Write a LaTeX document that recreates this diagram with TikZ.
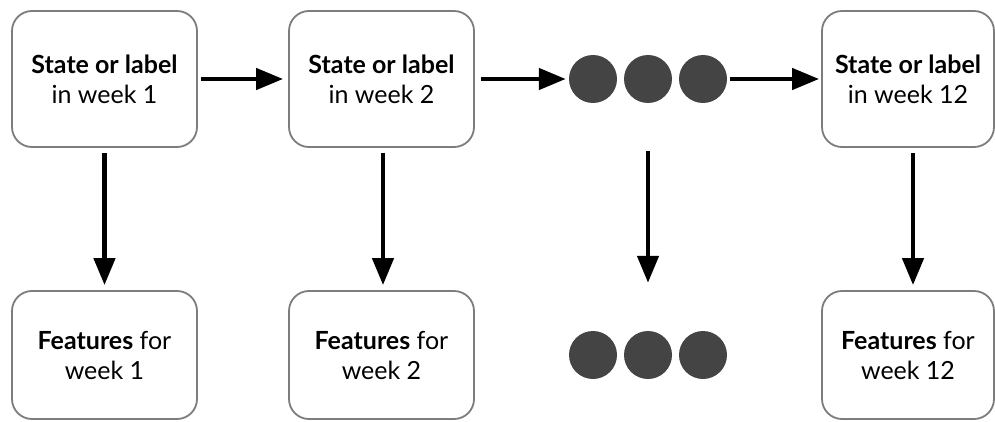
\documentclass[tikz,border=0pt]{standalone}
\usepackage{fontspec}
\setmainfont{Lato}
\usetikzlibrary{arrows.meta}
\definecolor{boxline}{RGB}{125,125,125}
\definecolor{dotfill}{RGB}{68,68,68}

\begin{document}
\begin{tikzpicture}[x=1pt, y=1pt, node distance=277pt,
  week/.style={draw=boxline, line width=1.8pt, rounded corners=20pt, align=center,
    minimum width=185pt, font=\fontsize{25}{30}\selectfont},
  state/.style={week, minimum height=136pt},
  feat/.style={week, minimum height=128pt},
  dot/.style={circle, fill=dotfill, minimum size=48pt, inner sep=0pt},
  link/.style={line width=4.5pt, -{Triangle[length=27pt, width=21pt]}}]
\useasboundingbox (0,0) rectangle (995,421);
\node  (t1)[state] at (104.5,342) {\textbf{State or label}\\in week 1};
\node  (t2)[state] [right of = t1] {\textbf{State or label}\\in week 2};
\node  (d1)[dot] [right of = t2, node distance=211.5pt] {};
\node  (d2)[dot] [right of = d1, node distance=55pt] {};
\node  (d3)[dot] [right of = d2, node distance=55pt] {};
\node  (t4)[state, minimum width=172pt] [right of = t2, node distance=526.5pt] {\textbf{State or label}\\in week 12};
\node  (f1)[feat] [below of = t1, node distance=276pt] {\textbf{Features} for\\week 1};
\node  (f2)[feat] [below of = t2, node distance=276pt] {\textbf{Features} for\\week 2};
\node  (e1)[dot] [below of = d1, node distance=276pt] {};
\node  (e2)[dot] [below of = d2, node distance=276pt] {};
\node  (e3)[dot] [below of = d3, node distance=276pt] {};
\node  (f4)[feat, minimum width=172pt] [below of = t4, node distance=276pt] {\textbf{Features} for\\week 12};
% along the weeks
\draw[link, shorten <=3pt, shorten >=5pt] (t1) -- (t2);
\draw[link, shorten <=6pt, shorten >=3pt] (t2) -- (d1);
\draw[link, shorten <=3pt, shorten >=2pt] (d3) -- (t4);
% down to the features
\draw[link, shorten <=5pt, shorten >=5pt] (t1) -- (f1);
\draw[link, shorten <=5pt, shorten >=5pt] ([xshift=1.5pt]t2.south) -- ([xshift=1.5pt]f2.north);
\draw[link, shorten <=48pt, shorten >=48pt] (d2) -- (e2);
\draw[link, shorten <=5pt, shorten >=5pt] ([xshift=5pt]t4.south) -- ([xshift=5pt]f4.north);
\end{tikzpicture}
\end{document}
